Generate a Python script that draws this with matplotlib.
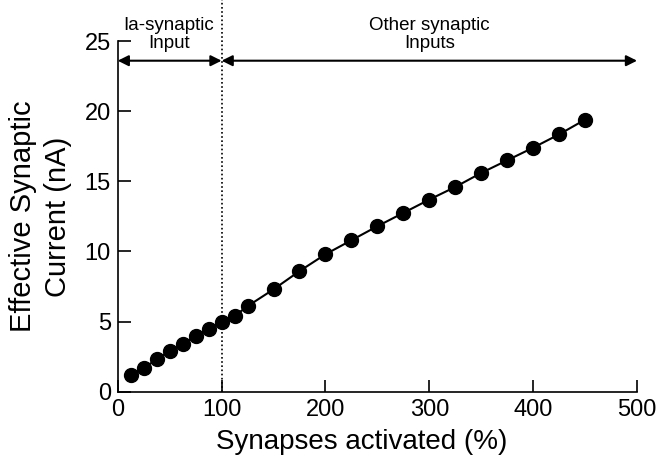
import numpy as np
import matplotlib.pyplot as plt

plt.rcParams['font.family'] = ['Liberation Sans', 'DejaVu Sans']

# synapses activated (%) vs effective synaptic current (nA)
synapses = [12.5, 25, 37.5, 50, 62.5, 75, 87.5, 100, 112.5, 125,
            150, 175, 200, 225, 250, 275, 300, 325, 350, 375, 400, 425, 450]
current = [1.2, 1.7, 2.3, 2.9, 3.4, 4.0, 4.5, 5.0, 5.4, 6.1,
           7.3, 8.6, 9.8, 10.8, 11.8, 12.75, 13.7, 14.6, 15.6, 16.5, 17.4, 18.35, 19.4]

ia_limit = 100
arrow_y = 23.6


def main():
    fig = plt.figure(figsize=(6.65, 4.72), dpi=100)
    ax = fig.add_axes([0.177, 0.17, 0.781, 0.743])

    ax.plot(synapses, current, color='black', lw=1.5, marker='o',
            markersize=10, markerfacecolor='black', markeredgecolor='black')

    ax.set_xlim(0, 500)
    ax.set_ylim(0, 25)
    ax.set_xticks(np.arange(0, 501, 100))
    ax.set_yticks(np.arange(0, 26, 5))
    ax.tick_params(direction='in', length=9, width=1.2, labelsize=17, pad=5)
    for side in ['top', 'right']:
        ax.spines[side].set_visible(False)
    for side in ['left', 'bottom']:
        ax.spines[side].set_linewidth(1.2)

    ax.set_xlabel('Synapses activated (%)', fontsize=20, labelpad=6)
    ax.xaxis.label.set_x(0.47)
    ax.set_ylabel('Effective Synaptic\nCurrent (nA)', fontsize=21,
                  linespacing=1.3, labelpad=9)

    # boundary between Ia and other inputs, runs above the axes
    ax.plot([ia_limit, ia_limit], [0, 27.9], color='black', lw=1.2,
            linestyle=(0, (1, 1.5)), clip_on=False)

    arrow = dict(arrowstyle='<|-|>', color='black', lw=1.5,
                 mutation_scale=16, shrinkA=0, shrinkB=0)
    ax.annotate('', xy=(0, arrow_y), xytext=(ia_limit, arrow_y),
                arrowprops=arrow, annotation_clip=False)
    ax.annotate('', xy=(ia_limit, arrow_y), xytext=(500, arrow_y),
                arrowprops=arrow, annotation_clip=False)

    ax.text(49, 24.2, 'Ia-synaptic\nInput', ha='center', va='bottom',
            fontsize=13.5, linespacing=1.1, clip_on=False)
    ax.text(300, 24.2, 'Other synaptic\nInputs', ha='center', va='bottom',
            fontsize=13.5, linespacing=1.1, clip_on=False)

    plt.savefig('out.png', dpi=100)


if __name__ == '__main__':
    main()
